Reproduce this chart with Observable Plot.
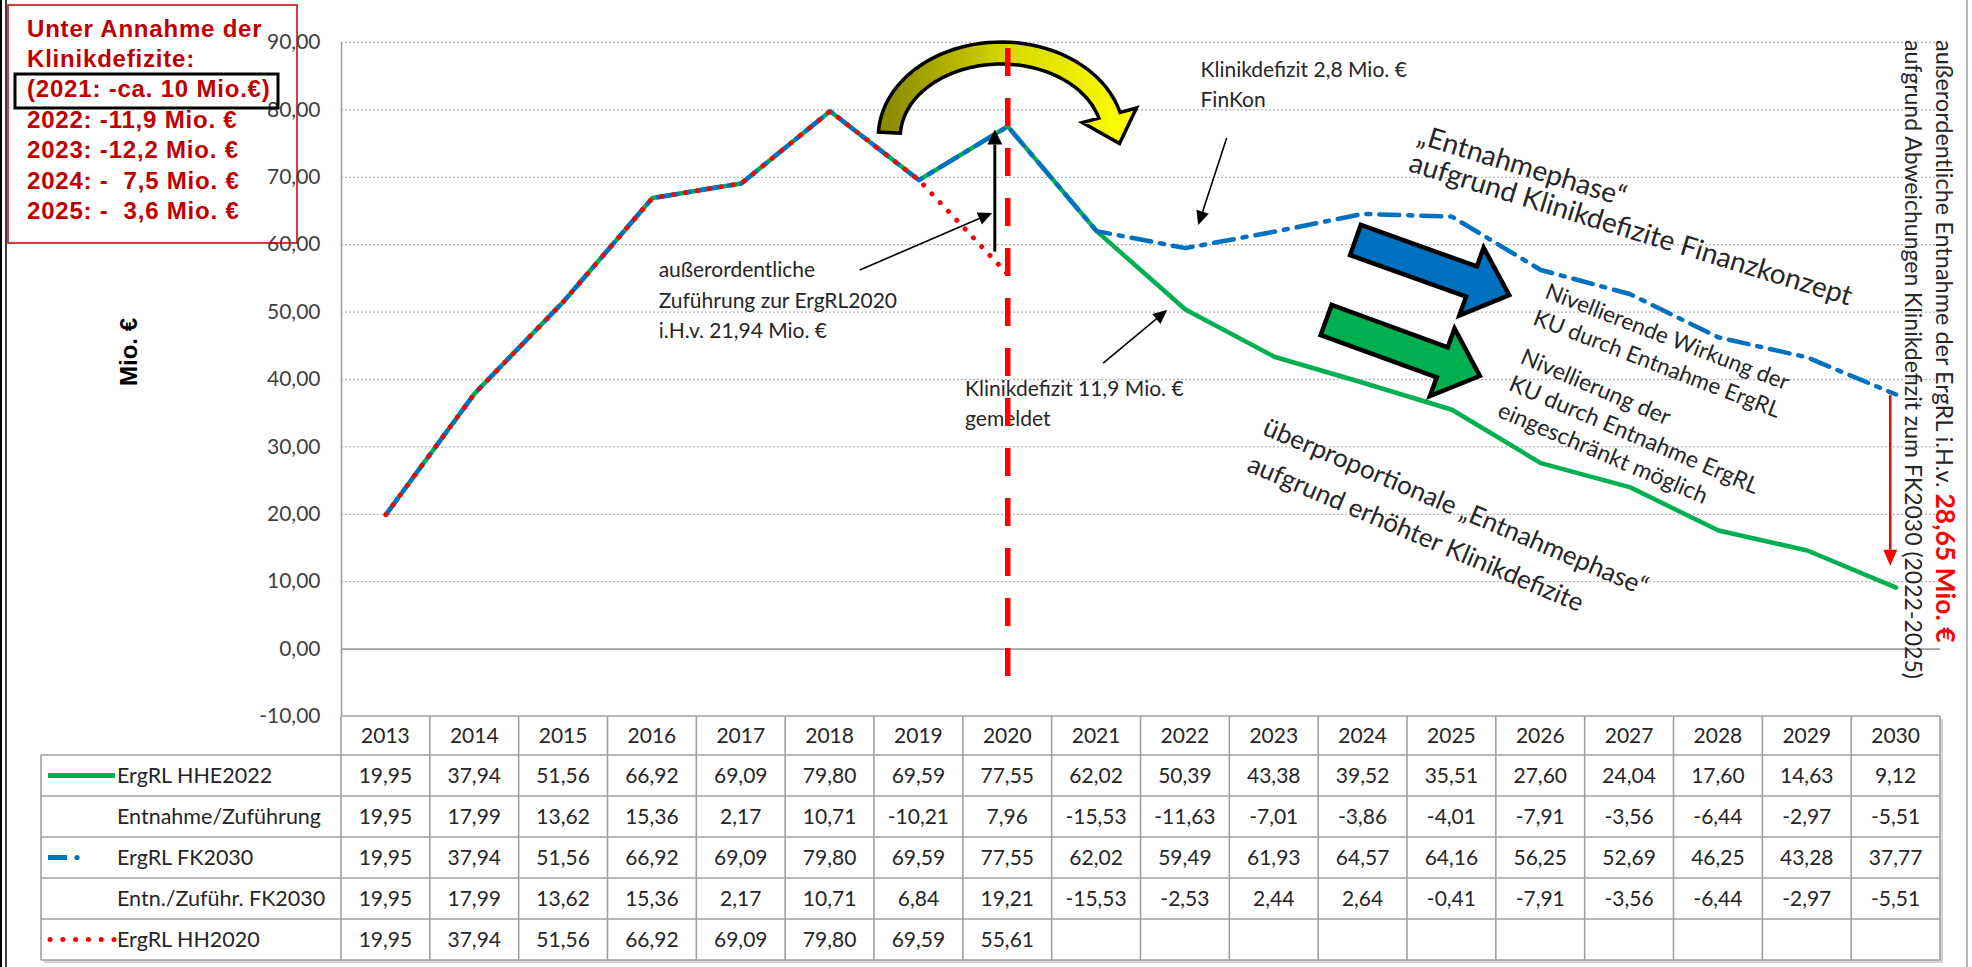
<!DOCTYPE html>
<html><head><meta charset="utf-8">
<script src="https://cdn.jsdelivr.net/npm/d3@7"></script>
<script src="https://cdn.jsdelivr.net/npm/@observablehq/plot@0.6"></script>
<style>
html,body{margin:0;padding:0;background:#fff;}
#chart{width:1972px;height:967px;overflow:hidden;position:relative;}
svg text{white-space:pre;}
</style></head><body><div id="chart"></div>
<script>
// ---------------- data ----------------
const years = [2013,2014,2015,2016,2017,2018,2019,2020,2021,2022,2023,2024,2025,2026,2027,2028,2029,2030];
const ergrlHHE2022 = [19.95,37.94,51.56,66.92,69.09,79.80,69.59,77.55,62.02,50.39,43.38,39.52,35.51,27.60,24.04,17.60,14.63,9.12];
const entnahmeZufuehrung = [19.95,17.99,13.62,15.36,2.17,10.71,-10.21,7.96,-15.53,-11.63,-7.01,-3.86,-4.01,-7.91,-3.56,-6.44,-2.97,-5.51];
const ergrlFK2030 = [19.95,37.94,51.56,66.92,69.09,79.80,69.59,77.55,62.02,59.49,61.93,64.57,64.16,56.25,52.69,46.25,43.28,37.77];
const entnZufuehrFK2030 = [19.95,17.99,13.62,15.36,2.17,10.71,6.84,19.21,-15.53,-2.53,2.44,2.64,-0.41,-7.91,-3.56,-6.44,-2.97,-5.51];
const ergrlHH2020 = [19.95,37.94,51.56,66.92,69.09,79.80,69.59,55.61];
const yTicks = [-10,0,10,20,30,40,50,60,70,80,90];
const rowLabels = ["ErgRL HHE2022","Entnahme/Zuführung","ErgRL FK2030","Entn./Zuführ. FK2030","ErgRL HH2020"];
const boxLines = ["Unter Annahme der","Klinikdefizite:","(2021: -ca. 10 Mio.€)","2022: -11,9 Mio. €","2023: -12,2 Mio. €","2024: -  7,5 Mio. €","2025: -  3,6 Mio. €"];
const yLabel = "Mio. €";

// ---------------- annotations ----------------
const annotTexts = [
  {x:2016.07, y:56.27, t:"außerordentliche"},
  {x:2016.07, y:51.67, t:"Zuführung zur ErgRL2020"},
  {x:2016.07, y:47.22, t:"i.H.v. 21,94 Mio. €"},
  {x:2022.17, y:85.85, t:"Klinikdefizit 2,8 Mio. €"},
  {x:2022.17, y:81.39, t:"FinKon"},
  {x:2019.52, y:38.62, t:"Klinikdefizit 11,9 Mio. €"},
  {x:2019.52, y:34.17, t:"gemeldet"}
];
const annotArrows = [
  {x1:2018.34, y1:56.17, x2:2019.83, y2:64.63, w:1.6},
  {x1:2019.86, y1:58.9, x2:2019.86, y2:77.0, w:3},
  {x1:2022.47, y1:75.76, x2:2022.15, y2:62.85, w:1.6},
  {x1:2021.08, y1:42.37, x2:2021.80, y2:50.24, w:1.6}
];
const blockTexts = [
  {x:2024.60, y:75.0, rot:17, size:28, anchor:"start", lh:29, lines:["„Entnahmephase“","aufgrund Klinikdefizite Finanzkonzept"]},
  {x:2022.86, y:31.84, rot:23, size:26, anchor:"start", lh:40, lines:["überproportionale „Entnahmephase“","aufgrund erhöhter Klinikdefizite"]},
  {x:2027.40, y:45.2, rot:21, size:22.5, anchor:"middle", lh:29, lines:["Nivellierende Wirkung der","KU durch Entnahme ErgRL"]},
  {x:2025.76, y:42.4, rot:23, size:23, anchor:"start", lh:29, lines:["Nivellierung der","KU durch Entnahme ErgRL","eingeschränkt möglich"]}
];
const blockArrows = [
  {x1:2023.92, y1:60.62, x2:2025.65, y2:52.46, fill:"#0070c0"},
  {x1:2023.59, y1:48.75, x2:2025.32, y2:40.45, fill:"#00b050"}
];

// ---------------- setup ----------------
const W = 1972, H = 967, ML = 341, MR = 32, MT = 42, MB = 251;
const de = d3.formatLocale({decimal:",", thousands:".", grouping:[3], currency:["","€"], minus:"-"});
const fmt2 = de.format(".2f");
const TXT = "#262626";
const SANS = "Lato, 'Open Sans', sans-serif";

function fnMark(draw) {
  return function(index, scales, values, dimensions, context) {
    const sx = (scales && typeof scales.x === "function") ? scales.x : d3.scaleLinear([2012.5, 2030.5], [ML, W - MR]);
    const sy = (scales && typeof scales.y === "function") ? scales.y : d3.scaleLinear([-10, 90], [H - MB, MT]);
    const g = d3.create("svg:g").attr("text-anchor", "start");
    draw(g, sx, sy);
    return g.node();
  };
}

const series = (vals) => vals.map((v, i) => ({year: years[i], v}));

// outer frame + y label
const frameMark = fnMark((g) => {
  g.append("line").attr("x1",1).attr("x2",1).attr("y1",0).attr("y2",H).attr("stroke","#000").attr("stroke-width",2);
  g.append("line").attr("x1",6).attr("x2",6).attr("y1",0).attr("y2",H).attr("stroke","#000").attr("stroke-width",1.5);
  g.append("line").attr("x1",1967).attr("x2",1967).attr("y1",0).attr("y2",H).attr("stroke","#a0a0a0").attr("stroke-width",1.5);
  g.append("text").attr("transform","translate(128,352) rotate(-90)").attr("text-anchor","middle")
    .attr("dominant-baseline","central")
    .attr("font-family","'Liberation Sans', Arial, sans-serif").attr("font-weight","bold").attr("font-size",24)
    .attr("fill","#000").text(yLabel);
});

const boxMark = fnMark((g) => {
  g.append("rect").attr("x",8).attr("y",5).attr("width",289).attr("height",238)
    .attr("fill","none").attr("stroke","#c00000").attr("stroke-width",1.5);
  g.append("rect").attr("x",15).attr("y",74).attr("width",263).attr("height",34)
    .attr("fill","none").attr("stroke","#000").attr("stroke-width",3);
  const base = [37,67,97,128,158,189,219];
  boxLines.forEach((t, i) => {
    g.append("text").attr("x",27).attr("y",base[i]).attr("text-anchor","start")
      .attr("font-family","'Liberation Sans', Arial, sans-serif").attr("font-weight","bold")
      .attr("font-size",24).attr("letter-spacing",0.8).attr("fill","#c00000")
      .attr("xml:space","preserve").text(t);
  });
});

// yellow curved arrow
const arcMark = fnMark((g, sx, sy) => {
  const cx = sx(2020) - 6, cy = sy(75.9);
  const rx = 112, ry = 84, hw = 11, wing = 28, t0 = 183 * Math.PI/180, t1 = 345 * Math.PI/180;
  const pt = (a, b, t) => [cx + a*Math.cos(t), cy + b*Math.sin(t)];
  const N = 48, outer = [], inner = [];
  for (let i = 0; i <= N; i++) {
    const t = t0 + (t1 - t0) * i / N;
    outer.push(pt(rx+hw, ry+hw, t)); inner.push(pt(rx-hw, ry-hw, t));
  }
  let tx = -rx*Math.sin(t1), ty = ry*Math.cos(t1); const tl = Math.hypot(tx, ty); tx/=tl; ty/=tl;
  const end = pt(rx, ry, t1);
  const tip = [end[0] + tx*30, end[1] + ty*30];
  const wo = pt(rx+wing, ry+wing, t1), wi = pt(rx-wing, ry-wing, t1);
  const pts = [...outer, wo, tip, wi, ...inner.reverse()];
  const defs = g.append("defs");
  const lg = defs.append("linearGradient").attr("id","yellowGrad").attr("gradientUnits","userSpaceOnUse")
    .attr("x1", cx - rx).attr("y1", 0).attr("x2", cx + rx + 20).attr("y2", 0);
  lg.append("stop").attr("offset","0").attr("stop-color","#8c8c00");
  lg.append("stop").attr("offset","0.5").attr("stop-color","#d9d900");
  lg.append("stop").attr("offset","1").attr("stop-color","#ffff00");
  g.append("path").attr("d", "M" + pts.map(p => p.join(",")).join("L") + "Z")
    .attr("fill","url(#yellowGrad)").attr("stroke","#000").attr("stroke-width",3.5).attr("stroke-linejoin","miter");
});

// block arrows
const blockArrowMark = fnMark((g, sx, sy) => {
  blockArrows.forEach(a => {
    const x1 = sx(a.x1), y1 = sy(a.y1), x2 = sx(a.x2), y2 = sy(a.y2);
    const L = Math.hypot(x2-x1, y2-y1), ux = (x2-x1)/L, uy = (y2-y1)/L, nx = -uy, ny = ux;
    const s = 16, h = 36, hl = 40;
    const kx = x2 - ux*hl, ky = y2 - uy*hl;
    const P = [[x1+nx*s,y1+ny*s],[kx+nx*s,ky+ny*s],[kx+nx*h,ky+ny*h],[x2,y2],[kx-nx*h,ky-ny*h],[kx-nx*s,ky-ny*s],[x1-nx*s,y1-ny*s]];
    g.append("path").attr("d","M"+P.map(p=>p.join(",")).join("L")+"Z")
      .attr("fill",a.fill).attr("stroke","#000").attr("stroke-width",4.5).attr("stroke-linejoin","miter");
  });
});

// thin arrows with filled heads
const arrowMark = fnMark((g, sx, sy) => {
  const drawArrow = (x1,y1,x2,y2,w,color,hl,hw) => {
    const L = Math.hypot(x2-x1,y2-y1), ux=(x2-x1)/L, uy=(y2-y1)/L, nx=-uy, ny=ux;
    const bx = x2-ux*hl, by = y2-uy*hl;
    g.append("line").attr("x1",x1).attr("y1",y1).attr("x2",bx).attr("y2",by).attr("stroke",color).attr("stroke-width",w);
    g.append("path").attr("d",`M${x2},${y2}L${bx+nx*hw},${by+ny*hw}L${bx-nx*hw},${by-ny*hw}Z`).attr("fill",color);
  };
  annotArrows.forEach(a => drawArrow(sx(a.x1),sy(a.y1),sx(a.x2),sy(a.y2),a.w,"#000", a.w>2?15:14, a.w>2?7.5:6.5));
  drawArrow(sx(2029.94), sy(37.6), sx(2029.94), sy(12.3), 2.5, "#ff0000", 16, 7);
});

// rotated text blocks (one text element per line)
const blockTextMark = fnMark((g, sx, sy) => {
  blockTexts.forEach(b => {
    const grp = g.append("g").attr("transform",`translate(${sx(b.x)},${sy(b.y)}) rotate(${b.rot})`);
    b.lines.forEach((l,i) => grp.append("text").attr("x",0).attr("y",i*b.lh)
      .attr("font-family",SANS).attr("font-size",b.size).attr("fill",TXT).attr("text-anchor",b.anchor).text(l));
  });
  // vertical text at right
  const vg = g.append("g").attr("transform",`translate(${sx(2030.45)},${sy(90.3)}) rotate(90)`);
  const v1 = vg.append("text").attr("x",0).attr("y",0).attr("text-anchor","start")
    .attr("font-family",SANS).attr("font-size",23.5).attr("fill",TXT);
  v1.append("tspan").text("außerordentliche Entnahme der ErgRL i.H.v. ");
  v1.append("tspan").attr("fill","#ff0000").attr("font-weight","bold").attr("font-size",26.5).text("28,65 Mio. €");
  vg.append("text").attr("x",0).attr("y",31).attr("text-anchor","start")
    .attr("font-family",SANS).attr("font-size",23).attr("fill",TXT)
    .text("aufgrund Abweichungen Klinikdefizit zum FK2030 (2022-2025)");
});

// table
const tableMark = fnMark((g, sx, sy) => {
  const top = sy(-10), hh = 39, rh = 41, labL = 41;
  const left = sx(2012.5), right = sx(2030.5);
  const bodyTop = top + hh, bottom = bodyTop + rh*5;
  g.append("rect").attr("x",labL+3).attr("y",bodyTop+3).attr("width",right-labL).attr("height",rh*5).attr("fill","#d4d4d4");
  g.append("rect").attr("x",left+3).attr("y",top+3).attr("width",right-left).attr("height",hh).attr("fill","#d4d4d4");
  g.append("rect").attr("x",left).attr("y",top).attr("width",right-left).attr("height",hh).attr("fill","#fff");
  g.append("rect").attr("x",labL).attr("y",bodyTop).attr("width",right-labL).attr("height",rh*5).attr("fill","#fff");
  const st = "#a0a0a0", sw = 1.6;
  const hl = (x1,x2,y) => g.append("line").attr("x1",x1).attr("x2",x2).attr("y1",y).attr("y2",y).attr("stroke",st).attr("stroke-width",sw);
  const vl = (x,y1,y2) => g.append("line").attr("x1",x).attr("x2",x).attr("y1",y1).attr("y2",y2).attr("stroke",st).attr("stroke-width",sw);
  hl(left, right, top);
  for (let r = 0; r <= 5; r++) hl(labL, right, bodyTop + r*rh);
  vl(labL, bodyTop, bottom);
  for (let i = 0; i <= years.length; i++) vl(sx(2012.5 + i), top, bottom);
  const txt = (x, y, s, anchor, size) => g.append("text").attr("x",x).attr("y",y).attr("text-anchor",anchor)
    .attr("font-family",SANS).attr("font-size",size).attr("fill",TXT).text(s);
  years.forEach(y => txt(sx(y), top + hh/2 + 7.5, String(y), "middle", 21));
  const rows = [ergrlHHE2022, entnahmeZufuehrung, ergrlFK2030, entnZufuehrFK2030, ergrlHH2020];
  rows.forEach((vals, r) => {
    const cy = bodyTop + r*rh + rh/2;
    txt(117, cy + 7.5, rowLabels[r], "start", 21.5);
    vals.forEach((v, i) => txt(sx(years[i]), cy + 7.5, fmt2(v), "middle", 21));
  });
  const c0 = bodyTop + rh/2, c2 = bodyTop + 2.5*rh, c4 = bodyTop + 4.5*rh;
  g.append("line").attr("x1",48).attr("x2",115).attr("y1",c0).attr("y2",c0).attr("stroke","#00b050").attr("stroke-width",5);
  g.append("line").attr("x1",48).attr("x2",67).attr("y1",c2).attr("y2",c2).attr("stroke","#0070c0").attr("stroke-width",5);
  g.append("circle").attr("cx",77).attr("cy",c2).attr("r",2.6).attr("fill","#0070c0");
  g.append("line").attr("x1",50).attr("x2",114).attr("y1",c4).attr("y2",c4).attr("stroke","#ff0000").attr("stroke-width",5)
    .attr("stroke-linecap","round").attr("stroke-dasharray","0.1,12.7");
});

const plot = Plot.plot({
  width: W, height: H,
  marginTop: MT, marginBottom: MB, marginLeft: ML, marginRight: MR,
  style: {background: "#fff", overflow: "visible", fontFamily: SANS, fontSize: "21px", color: "#404040"},
  x: {domain: [2012.5, 2030.5], axis: null},
  y: {domain: [-10, 90], ticks: yTicks, tickFormat: fmt2, tickSize: 0, tickPadding: 21, label: null},
  marks: [
    frameMark,
    Plot.ruleY(yTicks.filter(d => d > 0), {stroke: "#b5b5b5", strokeWidth: 1.3, strokeDasharray: "2,2"}),
    Plot.ruleY([0], {stroke: "#a0a0a0", strokeWidth: 1.6}),
    Plot.ruleX([2012.5], {y1: -10, y2: 90, stroke: "#a0a0a0", strokeWidth: 1.6}),
    tableMark,
    arcMark,
    Plot.line(series(ergrlHHE2022), {x: "year", y: "v", stroke: "#00b050", strokeWidth: 4.5}),
    Plot.line(series(ergrlFK2030), {x: "year", y: "v", stroke: "#0070c0", strokeWidth: 4.5, strokeDasharray: "20,9,4,9"}),
    Plot.line(series(ergrlHH2020), {x: "year", y: "v", stroke: "#ff0000", strokeWidth: 5, strokeDasharray: "0.1,12", strokeLinecap: "round"}),
    Plot.text(annotTexts, {x: "x", y: "y", text: "t", textAnchor: "start", lineAnchor: "middle", fontSize: 21, fontFamily: SANS, fill: TXT}),
    Plot.ruleX([2020], {y1: 89.1, y2: -4.5, stroke: "#ff0000", strokeWidth: 5.5, strokeDasharray: "28,22"}),
    blockArrowMark,
    arrowMark,
    blockTextMark,
    boxMark
  ]
});
document.getElementById("chart").appendChild(plot);
</script>
</body></html>
